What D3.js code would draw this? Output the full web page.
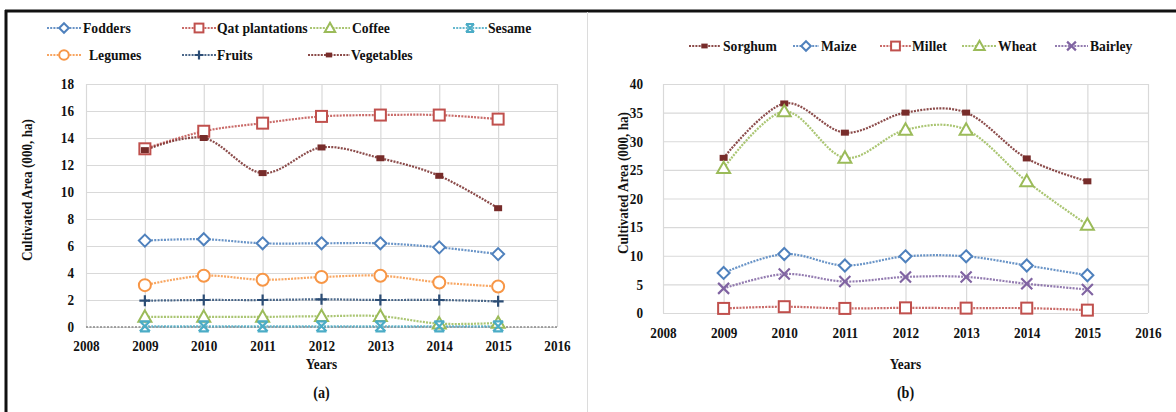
<!DOCTYPE html>
<html>
<head>
<meta charset="utf-8">
<script src="https://cdn.jsdelivr.net/npm/d3@7"></script>
<style>
  html, body { margin: 0; padding: 0; background: #fff; }
  svg { display: block; }
  svg text { font-family: "Liberation Serif", "Times New Roman", Times, serif !important; font-weight: bold; fill: #111; }
</style>
</head>
<body>
<svg id="fig" width="1176" height="412" style="font-family: 'Liberation Serif', serif"></svg>
<script>
// ---- data ----
const years = [2009, 2010, 2011, 2012, 2013, 2014, 2015];
const xTicks = [2008, 2009, 2010, 2011, 2012, 2013, 2014, 2015, 2016];

// panel (a): horticulture and cash crops, cultivated area (000 ha)
const fodders     = [6.4, 6.5, 6.2, 6.2, 6.2, 5.9, 5.4];
const qat         = [13.2, 14.5, 15.1, 15.6, 15.7, 15.7, 15.4];
const coffee      = [0.75, 0.75, 0.75, 0.8, 0.8, 0.25, 0.3];
const sesame      = [0.05, 0.05, 0.05, 0.05, 0.05, 0.05, 0.05];
const legumes     = [3.1, 3.8, 3.5, 3.7, 3.8, 3.3, 3.0];
const fruits      = [1.95, 2.0, 2.0, 2.05, 2.0, 2.0, 1.9];
const vegetables  = [13.1, 14.0, 11.4, 13.3, 12.5, 11.2, 8.8];
const yTicksA = [0, 2, 4, 6, 8, 10, 12, 14, 16, 18];

// panel (b): cereals, cultivated area (000 ha)
const sorghum = [27.1, 36.6, 31.5, 35.0, 35.0, 27.0, 23.0];
const maize   = [7.0, 10.3, 8.3, 9.9, 9.9, 8.3, 6.6];
const millet  = [0.8, 1.1, 0.8, 0.9, 0.85, 0.85, 0.5];
const wheat   = [25.3, 35.2, 27.1, 32.0, 32.0, 23.0, 15.4];
const bairley = [4.3, 6.8, 5.5, 6.3, 6.3, 5.1, 4.1];
const yTicksB = [0, 5, 10, 15, 20, 25, 30, 35, 40];

const C = {
  blue: "#4f81bd", red: "#c0504d", green: "#9bbb59", aqua: "#4bacc6",
  orange: "#f79646", navy: "#2c4d75", maroon: "#772c2a", purple: "#8064a2"
};

const seriesA = [
  { name: "Fodders", values: fodders, color: C.blue, marker: "diamond" },
  { name: "Qat plantations", values: qat, color: C.red, marker: "square" },
  { name: "Coffee", values: coffee, color: C.green, marker: "triangle" },
  { name: "Sesame", values: sesame, color: C.aqua, marker: "star" },
  { name: "Legumes", values: legumes, color: C.orange, marker: "circle" },
  { name: "Fruits", values: fruits, color: C.navy, marker: "plus" },
  { name: "Vegetables", values: vegetables, color: C.maroon, marker: "dash" }
];
const seriesB = [
  { name: "Sorghum", values: sorghum, color: C.maroon, marker: "dash" },
  { name: "Maize", values: maize, color: C.blue, marker: "diamond" },
  { name: "Millet", values: millet, color: C.red, marker: "square" },
  { name: "Wheat", values: wheat, color: C.green, marker: "triangle" },
  { name: "Bairley", values: bairley, color: C.purple, marker: "cross" }
];

const FONT = "'Liberation Serif', 'Times New Roman', serif";
const svg = d3.select("#fig");

// frame: heavy rule along the top and left, light divider between panels
svg.append("line").attr("x1", 5).attr("x2", 1176).attr("y1", 11).attr("y2", 11)
  .attr("stroke", "#111").attr("stroke-width", 3);
svg.append("line").attr("x1", 6).attr("x2", 6).attr("y1", 10).attr("y2", 412)
  .attr("stroke", "#111").attr("stroke-width", 3);
svg.append("line").attr("x1", 587.5).attr("x2", 587.5).attr("y1", 12).attr("y2", 412)
  .attr("stroke", "#dcdcdc").attr("stroke-width", 1);

function drawMarker(g, type, x, y, color, s) {
  s = s || 1;
  const sw = 2;
  if (type === "diamond") {
    const r = 6 * s;
    g.append("path").attr("d", `M${x},${y - r}L${x + r},${y}L${x},${y + r}L${x - r},${y}Z`)
      .attr("fill", "#fff").attr("stroke", color).attr("stroke-width", sw);
  } else if (type === "square") {
    const r = 5.5 * s;
    g.append("rect").attr("x", x - r).attr("y", y - r).attr("width", 2 * r).attr("height", 2 * r)
      .attr("fill", "#fff").attr("stroke", color).attr("stroke-width", sw);
  } else if (type === "triangle") {
    const r = 6.5 * s;
    g.append("path").attr("d", `M${x},${y - r}L${x + r},${y + r * 0.75}L${x - r},${y + r * 0.75}Z`)
      .attr("fill", "#fff").attr("stroke", color).attr("stroke-width", sw);
  } else if (type === "circle") {
    g.append("circle").attr("cx", x).attr("cy", y).attr("r", 6 * s)
      .attr("fill", "#fff").attr("stroke", color).attr("stroke-width", sw);
  } else if (type === "plus") {
    const r = 5.5 * s;
    g.append("path").attr("d", `M${x - r},${y}H${x + r}M${x},${y - r}V${y + r}`)
      .attr("fill", "none").attr("stroke", color).attr("stroke-width", 2.2);
  } else if (type === "cross") {
    const r = 5.5 * s;
    g.append("path").attr("d", `M${x - r},${y - r}L${x + r},${y + r}M${x + r},${y - r}L${x - r},${y + r}`)
      .attr("fill", "none").attr("stroke", color).attr("stroke-width", 2.2);
  } else if (type === "star") {
    const r = 5 * s;
    g.append("path").attr("d",
      `M${x - r},${y - r}L${x + r},${y + r}M${x + r},${y - r}L${x - r},${y + r}` +
      `M${x - r},${y - r}H${x + r}M${x - r},${y + r}H${x + r}`)
      .attr("fill", "none").attr("stroke", color).attr("stroke-width", 2.2);
  } else if (type === "dash") {
    g.append("rect").attr("x", x - 4 * s).attr("y", y - 3 * s).attr("width", 8 * s).attr("height", 6 * s)
      .attr("fill", color);
  }
}

function styleText(sel, size) {
  sel.attr("font-size", size).attr("font-family", FONT).attr("font-weight", "bold").attr("fill", "#111");
}

function panel(opts) {
  const x = d3.scaleLinear().domain([2008, 2016]).range([opts.x0, opts.x1]);
  const y = d3.scaleLinear().domain([0, opts.ymax]).range([opts.y0, opts.y1]);
  const g = svg.append("g").attr("font-family", FONT);

  // gridlines
  g.append("g").attr("transform", `translate(${opts.x0},0)`)
    .call(d3.axisLeft(y).tickValues(opts.yTicks).tickSize(-(opts.x1 - opts.x0)).tickFormat(""))
    .call(a => a.select(".domain").remove())
    .call(a => a.selectAll("line").attr("stroke", "#d9d9d9").attr("stroke-width", 1.2));
  g.append("g").attr("transform", `translate(0,${opts.y0})`)
    .call(d3.axisBottom(x).tickValues(xTicks).tickSize(-(opts.y0 - opts.y1)).tickFormat(""))
    .call(a => a.select(".domain").remove())
    .call(a => a.selectAll("line").attr("stroke", "#d9d9d9").attr("stroke-width", 1.2));

  if (opts.dottedBase) {
    g.append("line").attr("x1", opts.x0).attr("x2", opts.x1).attr("y1", opts.y0).attr("y2", opts.y0)
      .attr("stroke", "#888").attr("stroke-width", 1.3).attr("stroke-dasharray", "2,1.5");
  }

  // tick labels
  const yl = g.append("g").attr("transform", `translate(${opts.x0 - opts.yLabOff},0)`)
    .call(d3.axisLeft(y).tickValues(opts.yTicks).tickSize(0).tickFormat(d3.format("d")));
  yl.attr("font-family", FONT);
  yl.select(".domain").remove();
  styleText(yl.selectAll("text"), 15);
  const xl = g.append("g").attr("transform", `translate(0,${opts.y0 + opts.xLabOff})`)
    .call(d3.axisBottom(x).tickValues(xTicks).tickSize(0).tickFormat(d3.format("d")));
  xl.attr("font-family", FONT);
  xl.select(".domain").remove();
  styleText(xl.selectAll("text"), 15);

  // titles
  styleText(g.append("text").attr("transform", `translate(${opts.yTitleX},${opts.yTitleY}) rotate(-90)`)
    .attr("text-anchor", "middle").text("Cultivated Area (000, ha)"), 15);
  styleText(g.append("text").attr("x", (opts.x0 + opts.x1) / 2).attr("y", 369)
    .attr("text-anchor", "middle").text("Years"), 15);
  styleText(g.append("text").attr("x", (opts.x0 + opts.x1) / 2).attr("y", 398)
    .attr("text-anchor", "middle").text(opts.tag), 16);

  // series lines, back to front
  const line = d3.line().x((d, i) => x(years[i])).y(d => y(d)).curve(d3.curveCardinal.tension(0));
  opts.series.forEach(s => {
    g.append("path").datum(s.values).attr("d", line)
      .attr("fill", "none").attr("stroke", s.color).attr("stroke-width", 2.2)
      .attr("stroke-dasharray", "2,1.2").attr("opacity", 0.85);
  });
  opts.series.forEach(s => {
    s.values.forEach((v, i) => drawMarker(g, s.marker, x(years[i]), y(v), s.color));
  });

  // legend
  opts.legend.forEach(L => {
    const s = opts.series.find(d => d.name === L.name);
    const lg = g.append("g");
    lg.append("line").attr("x1", L.lx0).attr("x2", L.lx1).attr("y1", L.y).attr("y2", L.y)
      .attr("stroke", s.color).attr("stroke-width", 2).attr("stroke-dasharray", "2,1.2").attr("opacity", 0.85);
    drawMarker(lg, s.marker, (L.lx0 + L.lx1) / 2, L.y, s.color, 0.8);
    styleText(lg.append("text").attr("x", L.tx).attr("y", L.y).attr("dy", "0.35em").text(s.name), 15.5);
  });
}

panel({
  x0: 86, x1: 557, y0: 327, y1: 84, ymax: 18, yTicks: yTicksA, xLabOff: 10, yLabOff: 9,
  yTitleX: 32, yTitleY: 190, tag: "(a)", series: seriesA, dottedBase: true,
  legend: [
    { name: "Fodders", lx0: 47, lx1: 81, tx: 83, y: 28 },
    { name: "Qat plantations", lx0: 182, lx1: 216, tx: 217, y: 28 },
    { name: "Coffee", lx0: 310, lx1: 350, tx: 352, y: 28 },
    { name: "Sesame", lx0: 453, lx1: 487, tx: 488, y: 28 },
    { name: "Legumes", lx0: 47, lx1: 81, tx: 89, y: 55 },
    { name: "Fruits", lx0: 182, lx1: 216, tx: 217, y: 55 },
    { name: "Vegetables", lx0: 308, lx1: 350, tx: 351, y: 55 }
  ]
});

panel({
  x0: 663, x1: 1148, y0: 313, y1: 84, ymax: 40, yTicks: yTicksB, xLabOff: 11, yLabOff: 17,
  yTitleX: 628, yTitleY: 183, tag: "(b)", series: seriesB, dottedBase: false,
  legend: [
    { name: "Sorghum", lx0: 689, lx1: 720, tx: 723, y: 46 },
    { name: "Maize", lx0: 793, lx1: 819, tx: 821, y: 46 },
    { name: "Millet", lx0: 880, lx1: 911, tx: 912, y: 46 },
    { name: "Wheat", lx0: 962, lx1: 997, tx: 998, y: 46 },
    { name: "Bairley", lx0: 1055, lx1: 1088, tx: 1090, y: 46 }
  ]
});

// the serif face is set slightly condensed throughout
svg.selectAll("text").each(function () {
  const w = this.getComputedTextLength();
  if (w > 0) d3.select(this).attr("textLength", w * 0.88).attr("lengthAdjust", "spacingAndGlyphs");
});
</script>
</body>
</html>
